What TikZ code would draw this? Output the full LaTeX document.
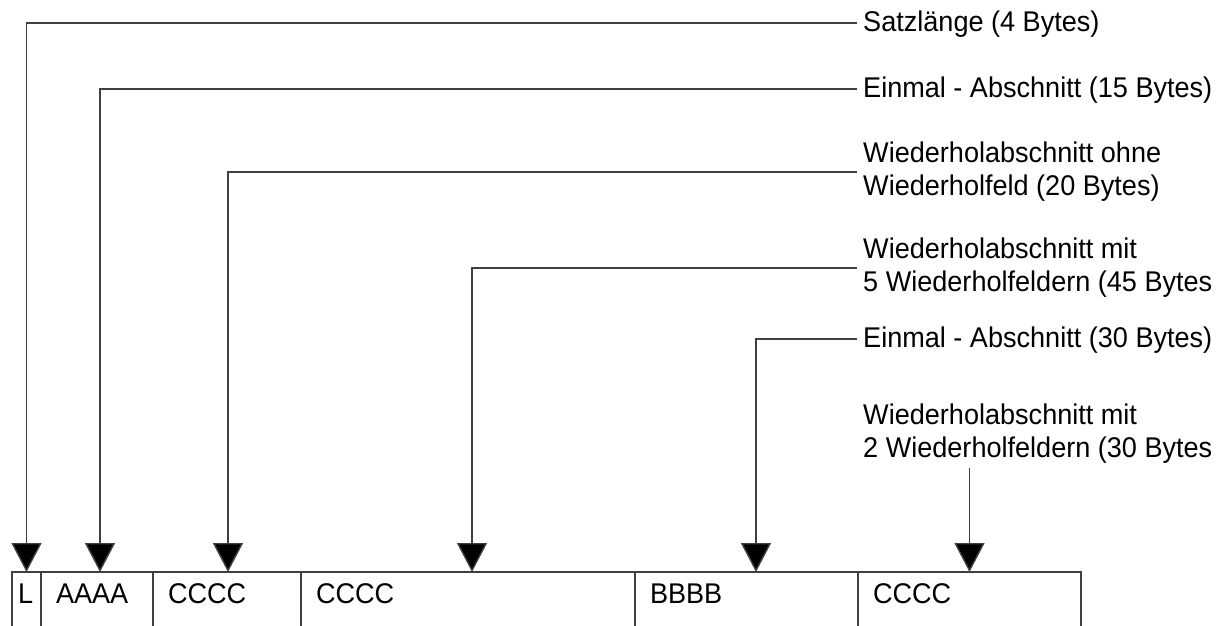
\documentclass[tikz,border=0pt]{standalone}
\usepackage{fontspec}
\setmainfont[FakeStretch=0.95]{Liberation Sans}
\usetikzlibrary{arrows.meta,positioning}

\tikzset{
  lbl/.style={anchor=west, align=left, inner xsep=6pt, inner ysep=4pt,
    font=\fontsize{28.5}{33}\selectfont},
  cell/.style={draw=black!75, line width=1.4pt, text width=#1, align=left,
    inner xsep=15pt, inner ysep=0pt, outer sep=0pt, text height=31pt, text depth=30pt,
    font=\fontsize{28.5}{33}\selectfont},
  feed/.style={draw=black!75, line width=1.4pt,
    -{Triangle[width=30pt,length=29pt,fill=black]}}
}

\begin{document}
\begin{tikzpicture}[x=1pt,y=-1pt]
    \useasboundingbox (0,0) rectangle (1219,625);

    \node[cell=17pt, inner xsep=6pt, anchor=north west] (SaL) at (12,572) {L};
    \node[cell=82pt, right=0pt of SaL] (SaA) {AAAA};
    \node[cell=118pt, right=0pt of SaA] (SaCa) {CCCC};
    \node[cell=304pt, right=0pt of SaCa] (SaCb) {CCCC};
    \node[cell=193pt, right=0pt of SaCb] (SaB) {BBBB};
    \node[cell=193pt, right=0pt of SaB] (SaCc) {CCCC};

    \node[lbl, text depth=3pt] (SaLen) at (857,23) {Satzlänge (4 Bytes)};
    \node[lbl, text depth=3pt] (SaEinA) at (857,89) {Einmal - Abschnitt (15 Bytes)};
    \node[lbl] (SaOhne) at (857,172) {Wiederholabschnitt ohne\\Wiederholfeld (20 Bytes)};
    \node[lbl] (SaFuenf) at (857,268) {Wiederholabschnitt mit\\5 Wiederholfeldern (45 Bytes};
    \node[lbl, text depth=3pt] (SaEinB) at (857,339) {Einmal - Abschnitt (30 Bytes)};
    \node[lbl] (SaZwei) at (857,434) {Wiederholabschnitt mit\\2 Wiederholfeldern (30 Bytes};

    \draw[feed] (SaLen.west) -| (SaL.north);
    \draw[feed] (SaEinA.west) -| ([xshift=3pt]SaA.north);
    \draw[feed] (SaOhne.west) -| ([xshift=1pt]SaCa.north);
    \draw[feed] (SaFuenf.west) -| ([xshift=4pt]SaCb.north);
    \draw[feed] (SaEinB.west) -| ([xshift=9.5pt]SaB.north);
    \draw[feed] (SaZwei.south -| SaCc.north) -- (SaCc.north);
\end{tikzpicture}
\end{document}
